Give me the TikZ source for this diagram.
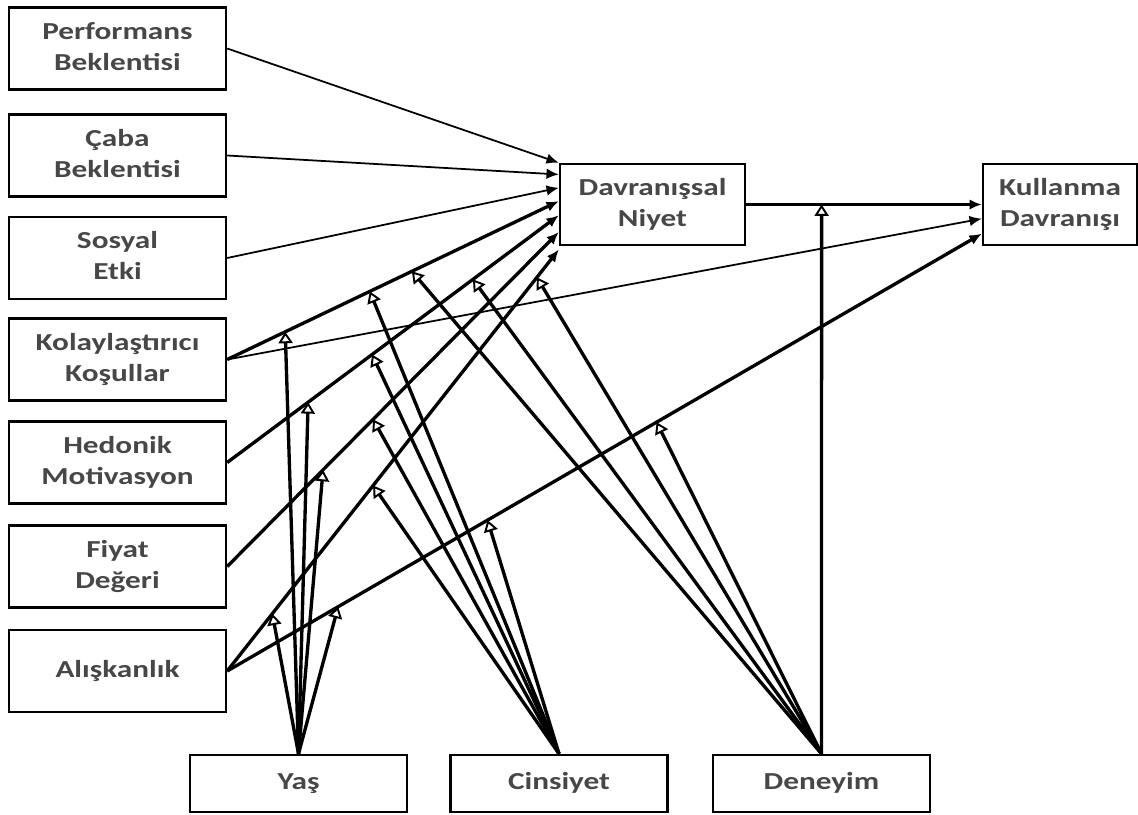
\documentclass[tikz,border=0pt]{standalone}
\usepackage{fontspec}
\setmainfont{Carlito}
\usepackage{graphicx}
\usetikzlibrary{arrows.meta,calc}

% box text, a bit wider than the font
\newcommand{\kutuyazi}[1]{\scalebox{1.28}[1]{\begin{tabular}{@{}c@{}}#1\end{tabular}}}

\begin{document}
\begin{tikzpicture}[x=0.02cm, y=-0.02cm,
    kutu/.style={draw, line width=1.4pt, inner sep=0pt,
        font=\fontsize{13.9}{17.6}\selectfont\bfseries, text=black!72},
    solkutu/.style={kutu, minimum width=4.34cm, minimum height=1.64cm},
    altkutu/.style={kutu, minimum width=4.34cm, minimum height=1.14cm},
    ince/.style={line width=1pt, -{Latex[length=7pt,width=6pt]}},
    kalin/.style={line width=1.9pt, -{Latex[length=7pt,width=6pt]}},
    moderator/.style={line width=1.9pt, -{Triangle[open,length=6.5pt,width=8pt,line width=1.1pt]}}]
    \useasboundingbox (0,0) rectangle (1138,814);

    % the boxes on the left
    \node[solkutu] (perf) at (117.5,48.5) {\kutuyazi{Performans\\Beklentisi}};
    \node[solkutu] (caba) at (117.5,155.5) {\kutuyazi{Çaba\\Beklentisi}};
    \node[solkutu] (sosyal) at (117.5,258) {\kutuyazi{Sosyal\\Etki}};
    \node[solkutu] (kolay) at (117.5,359.5) {\kutuyazi{Kolaylaştırıcı\\Koşullar}};
    \node[solkutu] (hedonik) at (117.5,462.5) {\kutuyazi{Hedonik\\Motivasyon}};
    \node[solkutu] (fiyat) at (117.5,566.5) {\kutuyazi{Fiyat\\Değeri}};
    \node[solkutu] (alis) at (117.5,671) {\kutuyazi{Alışkanlık}};

    % the two outcome boxes
    \node[kutu, minimum width=3.7cm, minimum height=1.62cm] (dn) at (652.5,204.5) {\kutuyazi{Davranışsal\\Niyet}};
    \node[kutu, minimum width=3.08cm, minimum height=1.62cm] (kd) at (1060,204.5) {\kutuyazi{Kullanma\\Davranışı}};

    % the moderators at the bottom
    \node[altkutu] (yas) at (298.5,783.5) {\kutuyazi{Yaş}};
    \node[altkutu] (cins) at (559,783.5) {\kutuyazi{Cinsiyet}};
    \node[altkutu] (den) at (821.5,783.5) {\kutuyazi{Deneyim}};

    % the arrows into Davranissal Niyet
    \draw[ince] (perf.east) -- ($(dn.north west)!0!(dn.south west)$);
    \draw[ince] (caba.east) -- ($(dn.north west)!0.14!(dn.south west)$);
    \draw[ince] (sosyal.east) -- ($(dn.north west)!0.3!(dn.south west)$);
    \draw[kalin] (kolay.east) -- coordinate[pos=0.175] (kolY) coordinate[pos=0.43] (kolC)
        coordinate[pos=0.557] (kolD) ($(dn.north west)!0.46!(dn.south west)$);
    \draw[kalin] (hedonik.east) -- coordinate[pos=0.244] (hedY) coordinate[pos=0.437] (hedC)
        coordinate[pos=0.741] (hedD) ($(dn.north west)!0.63!(dn.south west)$);
    \draw[kalin] (fiyat.east) -- coordinate[pos=0.289] (fiyY) coordinate[pos=0.44] (fiyC)
        ($(dn.north west)!0.83!(dn.south west)$);
    \draw[kalin] (alis.east) -- coordinate[pos=0.136] (alisY) coordinate[pos=0.44] (alisC)
        coordinate[pos=0.934] (alisD) ($(dn.north west)!1.04!(dn.south west)$);

    % the arrows into Kullanma Davranisi
    \draw[line width=1.4pt, -{Latex[length=7pt,width=6pt]}] (dn.east) -- coordinate[pos=0.32] (dnD) (kd.west);
    \draw[ince] (kolay.east) -- ($(kd.north west)!0.67!(kd.south west)$);
    \draw[kalin] (alis.east) -- coordinate[pos=0.147] (kdY) coordinate[pos=0.345] (kdC)
        coordinate[pos=0.569] (kdD) ($(kd.north west)!0.85!(kd.south west)$);

    % Yas
    \draw[moderator] (yas.north) -- (kolY);
    \draw[moderator] (yas.north) -- (hedY);
    \draw[moderator] (yas.north) -- (fiyY);
    \draw[moderator] (yas.north) -- (alisY);
    \draw[moderator] (yas.north) -- (kdY);
    % Cinsiyet
    \draw[moderator] (cins.north) -- (kolC);
    \draw[moderator] (cins.north) -- (hedC);
    \draw[moderator] (cins.north) -- (fiyC);
    \draw[moderator] (cins.north) -- (alisC);
    \draw[moderator] (cins.north) -- (kdC);
    % Deneyim
    \draw[moderator] (den.north) -- (kolD);
    \draw[moderator] (den.north) -- (hedD);
    \draw[moderator] (den.north) -- (alisD);
    \draw[moderator] (den.north) -- (kdD);
    \draw[moderator] (den.north) -- (dnD);
\end{tikzpicture}
\end{document}
